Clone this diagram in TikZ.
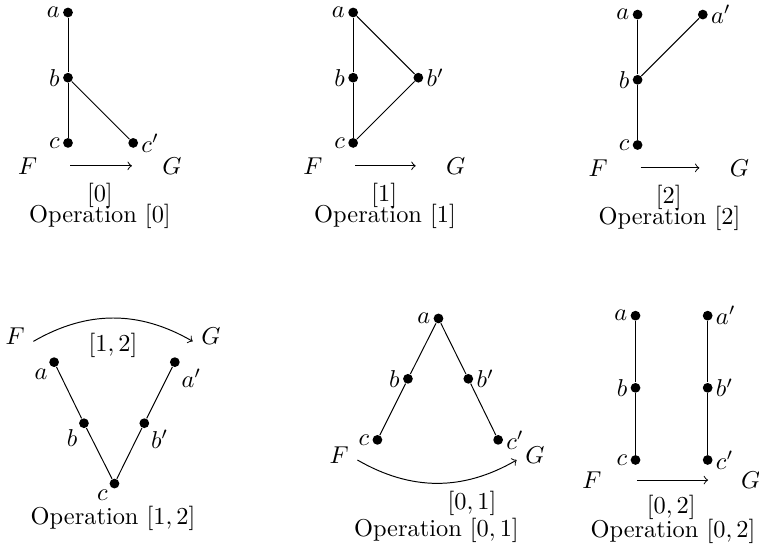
\documentclass[tikz,border=0pt]{standalone}
\usepackage{tikz}
\usetikzlibrary{positioning,arrows,calc}
\usepackage{amsmath}

\begin{document}
\begin{tikzpicture}[every node/.style={font=\normalsize},
    dot/.style={circle, fill=black, inner sep=0pt, minimum size=4pt},
    every label/.style={inner sep=1pt},
    opname/.style={align=center},
    oparrow/.style={->, shorten <=10pt, shorten >=9pt},
    oplabel/.style={below, yshift=-3.5pt}]
      \useasboundingbox (0,0) rectangle (10.94,-7.97);
      % Operation [0]
      \node[dot, label=left:$a$] (a0) at (0.98,-0.18) {};
      \node[dot, label=left:$b$] (b0) at (0.98,-1.12) {};
      \node[dot, label=left:$c$] (c0) at (0.98,-2.06) {};
      \node[dot, label=right:$c'$] (cp0) at (1.92,-2.06) {};
      \draw (a0) -- (b0) -- (c0);
      \draw (b0) -- (cp0);
      \node (F0) at (0.40,-2.39) {$F$};
      \node (G0) at (2.48,-2.39) {$G$};
      \draw[oparrow] (F0) -- node[oplabel]{$[0]$} (G0);
      \node[opname] (op0) at (1.44,-3.12) {Operation $[0]$};
      % Operation [1]
      \node[dot, label=left:$a$] (a1) at (5.09,-0.18) {};
      \node[dot, label=left:$b$] (b1) at (5.09,-1.12) {};
      \node[dot, label=left:$c$] (c1) at (5.09,-2.06) {};
      \node[dot, label=right:$b'$] (bp1) at (6.03,-1.12) {};
      \draw (a1) -- (b1) -- (c1);
      \draw (a1) -- (bp1) -- (c1);
      \node (F1) at (4.51,-2.39) {$F$};
      \node (G1) at (6.57,-2.39) {$G$};
      \draw[oparrow] (F1) -- node[oplabel]{$[1]$} (G1);
      \node[opname] (op1) at (5.55,-3.12) {Operation $[1]$};
      % Operation [2]
      \node[dot, label=left:$a$] (a2) at (9.19,-0.21) {};
      \node[dot, label=left:$b$] (b2) at (9.19,-1.15) {};
      \node[dot, label=left:$c$] (c2) at (9.19,-2.09) {};
      \node[dot, label=right:$a'$] (ap2) at (10.13,-0.21) {};
      \draw (a2) -- (b2) -- (c2);
      \draw (b2) -- (ap2);
      \node (F2) at (8.62,-2.42) {$F$};
      \node (G2) at (10.66,-2.42) {$G$};
      \draw[oparrow] (F2) -- node[oplabel]{$[2]$} (G2);
      \node[opname] (op2) at (9.65,-3.15) {Operation $[2]$};
      % Operation [1,2]
      \node[dot, label=below left:$a$] (a12) at (0.78,-5.22) {};
      \node[dot, label=below left:$b$] (b12) at (1.21,-6.10) {};
      \node[dot, label=below left:$c$] (c12) at (1.65,-6.97) {};
      \node[dot, label=below right:$b'$] (bp12) at (2.08,-6.10) {};
      \node[dot, label=below right:$a'$] (ap12) at (2.52,-5.22) {};
      \draw (a12) -- (b12) -- (c12) -- (bp12) -- (ap12);
      \node (F12) at (0.22,-4.85) {$F$};
      \node (G12) at (3.04,-4.85) {$G$};
      \draw[->] ([yshift=-2pt]F12.east) to[bend left=30]
            node[below, yshift=-2.5pt]{$[1,2]$} ([yshift=-2pt]G12.west);
      \node[opname] (op12) at (1.63,-7.47) {Operation $[1,2]$};
      % Operation [0,1]
      \node[dot, label=left:$a$] (a01) at (6.32,-4.59) {};
      \node[dot, label=left:$b$] (b01) at (5.88,-5.46) {};
      \node[dot, label=right:$b'$] (bp01) at (6.75,-5.46) {};
      \node[dot, label=left:$c$] (c01) at (5.44,-6.34) {};
      \node[dot, label=right:$c'$] (cp01) at (7.18,-6.34) {};
      \draw (c01) -- (b01) -- (a01) -- (bp01) -- (cp01);
      \node (F01) at (4.89,-6.56) {$F$};
      \node (G01) at (7.71,-6.56) {$G$};
      \draw[->] ([yshift=-2pt]F01.east) to[bend right=30]
            node[below, pos=0.72, yshift=-1.5pt]{$[0,1]$} ([yshift=-2pt]G01.west);
      \node[opname] (op01) at (6.29,-7.64) {Operation $[0,1]$};
      % Operation [0,2]
      \node[dot, label=left:$a$] (a02) at (9.16,-4.55) {};
      \node[dot, label=left:$b$] (b02) at (9.16,-5.59) {};
      \node[dot, label=left:$c$] (c02) at (9.16,-6.63) {};
      \node[dot, label=right:$a'$] (ap02) at (10.20,-4.55) {};
      \node[dot, label=right:$b'$] (bp02) at (10.20,-5.59) {};
      \node[dot, label=right:$c'$] (cp02) at (10.20,-6.63) {};
      \draw (a02) -- (b02) -- (c02);
      \draw (ap02) -- (bp02) -- (cp02);
      \node (F02) at (8.53,-6.92) {$F$};
      \node (G02) at (10.82,-6.92) {$G$};
      \draw[oparrow, shorten <=11pt, shorten >=10pt] (F02) -- node[below, yshift=-2.5pt]{$[0,2]$} (G02);
      \node[opname] (op02) at (9.70,-7.66) {Operation $[0,2]$};
    \end{tikzpicture}
\end{document}
